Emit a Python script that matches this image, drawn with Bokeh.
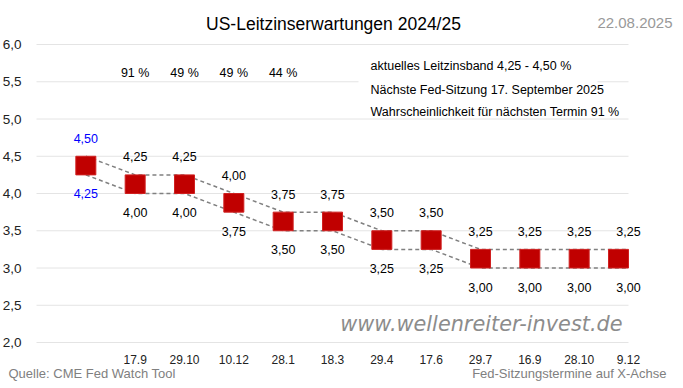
import numpy as np
from bokeh.plotting import figure
from bokeh.models import Range1d, FixedTicker, Label, BoxAnnotation, ColumnDataSource
from bokeh.core.properties import value
from bokeh.embed import file_html
from bokeh.resources import INLINE

# ---------------- data ----------------
categories = ["", "17.9", "29.10", "10.12", "28.1", "18.3", "29.4", "17.6",
              "29.7", "16.9", "28.10", "9.12"]
upper = [4.50, 4.25, 4.25, 4.00, 3.75, 3.75, 3.50, 3.50, 3.25, 3.25, 3.25, 3.25]
lower = [4.25, 4.00, 4.00, 3.75, 3.50, 3.50, 3.25, 3.25, 3.00, 3.00, 3.00, 3.00]
probabilities = ["91 %", "49 %", "49 %", "44 %"]
y_ticks = [2.0, 2.5, 3.0, 3.5, 4.0, 4.5, 5.0, 5.5, 6.0]

title_text = "US-Leitzinserwartungen 2024/25"
date_text = "22.08.2025"
info_lines = ["aktuelles Leitzinsband 4,25 - 4,50 %",
              "Nächste Fed-Sitzung 17. September 2025",
              "Wahrscheinlichkeit für nächsten Termin 91 %"]
source_text = "Quelle: CME Fed Watch Tool"
xaxis_note = "Fed-Sitzungstermine auf X-Achse"
watermark = "www.wellenreiter-invest.de"

# ---------------- geometry (page pixels) ----------------
W, H = 683, 388
FL, FR, FT, FB = 36, 628, 44, 342      # plot area of the original chart
X0, X1 = -1, len(categories) - 1
Y0, Y1 = 2.0, 6.0
ppx = (FR - FL) / (X1 - X0)
ppy = (FB - FT) / (Y1 - Y0)


def dx(px):
    return X0 + (px - FL) / ppx


def dy(py):
    return Y1 - (py - FT) / ppy


FONT = "Liberation Sans"

# the frame covers the whole canvas; axes sit at fixed data locations
p = figure(width=W, height=H,
           x_range=Range1d(dx(0), dx(W)), y_range=Range1d(dy(H), dy(0)),
           output_backend="svg", toolbar_location=None,
           min_border=0, min_border_left=0, min_border_right=0,
           min_border_top=0, min_border_bottom=0)
p.outline_line_color = None
p.background_fill_color = "white"
p.border_fill_color = "white"
p.xgrid.grid_line_color = None
p.ygrid.grid_line_color = None

# horizontal gridlines spanning the plot area
p.segment(x0=[X0] * len(y_ticks), x1=[X1] * len(y_ticks), y0=y_ticks, y1=y_ticks,
          line_color="#e4e4e4", line_width=1)

# y axis
p.yaxis.fixed_location = X0
p.yaxis.ticker = FixedTicker(ticks=y_ticks)
p.yaxis.major_label_overrides = {t: f"{t:.1f}".replace(".", ",") for t in y_ticks}
p.yaxis.axis_line_color = None
p.yaxis.major_tick_line_color = None
p.yaxis.minor_tick_line_color = None
p.yaxis.major_label_text_font = FONT
p.yaxis.major_label_text_font_size = "13.5px"
p.yaxis.major_label_text_color = "#222222"
p.yaxis.major_label_standoff = 9

# x axis
idx = list(range(len(categories)))
p.xaxis.fixed_location = Y0
p.xaxis.ticker = FixedTicker(ticks=idx[1:])
p.xaxis.major_label_overrides = {i: categories[i] for i in idx[1:]}
p.xaxis.axis_line_color = None
p.xaxis.major_tick_line_color = None
p.xaxis.minor_tick_line_color = None
p.xaxis.major_label_text_font = FONT
p.xaxis.major_label_text_font_size = "12px"
p.xaxis.major_label_text_color = "#222222"
p.xaxis.major_label_standoff = 6

# white box hiding part of the 5.5 gridline behind the info text
p.add_layout(BoxAnnotation(left=dx(358), right=dx(597), bottom=dy(87), top=dy(77),
                           fill_color="white", fill_alpha=1.0, line_color=None))

# dashed band lines
p.line(idx, upper, line_color="#808080", line_width=1.5, line_dash="4 3")
p.line(idx, lower, line_color="#808080", line_width=1.5, line_dash="4 3")

# markers (last one kept inside the plot area)
half_w = 10 / ppx
mx = np.minimum(np.array(idx, dtype=float), X1 - half_w)
mid = [(u + l) / 2 for u, l in zip(upper, lower)]
p.rect(x=mx, y=mid, width=20, width_units="screen", height=0.25,
       fill_color="#C00000", line_color="#D02020", line_width=1)

# data labels
colors = ["#0000FF"] + ["#000000"] * (len(categories) - 1)
up_src = ColumnDataSource(dict(x=idx, y=upper, t=[f"{v:.2f}".replace(".", ",") for v in upper], c=colors))
lo_src = ColumnDataSource(dict(x=idx, y=lower, t=[f"{v:.2f}".replace(".", ",") for v in lower], c=colors))
p.text(x="x", y="y", text="t", source=up_src, text_color="c", text_align="center",
       text_baseline="middle", y_offset=-18, text_font=value(FONT), text_font_size="12.5px")
p.text(x="x", y="y", text="t", source=lo_src, text_color="c", text_align="center",
       text_baseline="middle", y_offset=19, text_font=value(FONT), text_font_size="12.5px")

# probabilities above the next meetings
PCT_PY = 72
p.text(x=idx[1:1 + len(probabilities)], y=[dy(PCT_PY)] * len(probabilities), text=probabilities,
       text_align="center", text_baseline="middle", text_color="#000000",
       text_font=value(FONT), text_font_size="12.5px")

# info lines
for line, py in zip(info_lines, [65, 89, 111]):
    p.add_layout(Label(x=dx(370), y=dy(py), text=line, text_align="left", text_baseline="middle",
                       text_font=FONT, text_font_size="12.5px", text_color="#000000"))

# title and date
p.add_layout(Label(x=dx(333), y=dy(23), text=title_text, text_align="center", text_baseline="middle",
                   text_font=FONT, text_font_size="17.5px", text_color="#000000"))
p.add_layout(Label(x=dx(672), y=dy(22), text=date_text, text_align="right", text_baseline="middle",
                   text_font=FONT, text_font_size="15px", text_color="#999999"))

# watermark
p.add_layout(Label(x=dx(622), y=dy(323), text=watermark, text_align="right", text_baseline="middle",
                   text_font="DejaVu Sans", text_font_style="italic", text_font_size="20.8px",
                   text_color="#8c8c8c"))

# footer texts
p.add_layout(Label(x=dx(8), y=dy(373), text=source_text, text_align="left", text_baseline="middle",
                   text_font=FONT, text_font_size="13px", text_color="#808080"))
p.add_layout(Label(x=dx(666), y=dy(373), text=xaxis_note, text_align="right", text_baseline="middle",
                   text_font=FONT, text_font_size="13px", text_color="#808080"))

open("out.html", "w").write(file_html(p, INLINE))
